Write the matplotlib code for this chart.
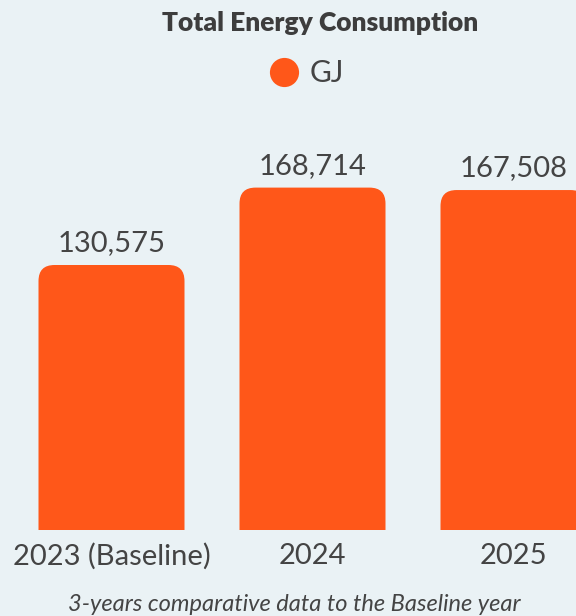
import matplotlib.pyplot as plt
from matplotlib.patches import FancyBboxPatch
from matplotlib.lines import Line2D

years = ["2023 (Baseline)", "2024", "2025"]
energy_gj = [130575, 168714, 167508]

bar_color = "#FF5719"
bg_color = "#EAF2F5"
text_color = "#444444"

plt.rcParams['font.family'] = ['Lato', 'DejaVu Sans']

W, H = 576, 616
fig = plt.figure(figsize=(W / 100, H / 100), dpi=100, facecolor=bg_color)

# plot area in pixels: zero line at y=530, top at y=110
ax = fig.add_axes([0, (H - 530) / H, 1, 420 / H])
ax.set_facecolor(bg_color)

step_px = 201.0          # distance between bar centres
px_per_gj = 265 / 130575.0
ax.set_xlim(-111.5 / step_px, (W - 111.5) / step_px)
ax.set_ylim(0, 420 / px_per_gj)

bar_w = 146 / step_px
r_x = 16 / step_px
r_y = 16 / px_per_gj

for i, v in enumerate(energy_gj):
    # rounded box pushed below zero so only the top corners show
    patch = FancyBboxPatch((i - bar_w / 2, -2 * r_y), bar_w, v + 2 * r_y,
                           boxstyle=f"round,pad=0,rounding_size={r_x}",
                           mutation_aspect=r_y / r_x,
                           facecolor=bar_color, edgecolor="none")
    ax.add_patch(patch)
    ax.annotate(f"{v:,}", (i, v), xytext=(0, 10), textcoords="offset points",
                ha="center", va="baseline", fontsize=21, color=text_color)

ax.set_xticks(range(len(years)), years)
ax.tick_params(axis="x", length=0, pad=9, labelsize=21, labelcolor=text_color)
ax.set_yticks([])
for s in ax.spines.values():
    s.set_visible(False)

fig.text(320 / W, 1 - 31 / H, "Total Energy Consumption", ha="center",
         va="baseline", fontsize=19, fontweight="heavy", color="#3d3d3d")

handle = Line2D([], [], marker="o", linestyle="none", markersize=21,
                markerfacecolor=bar_color, markeredgecolor="none")
fig.legend([handle], ["GJ"], loc="center", bbox_to_anchor=(305 / W, 1 - 73 / H),
           frameon=False, fontsize=21.5, labelcolor=text_color,
           handletextpad=0.25, handlelength=1.2)

fig.text(294 / W, 1 - 611 / H, "3-years comparative data to the Baseline year",
         ha="center", va="baseline", fontsize=17, style="italic",
         color=text_color)

fig.savefig("out.png", dpi=100, facecolor=bg_color)
